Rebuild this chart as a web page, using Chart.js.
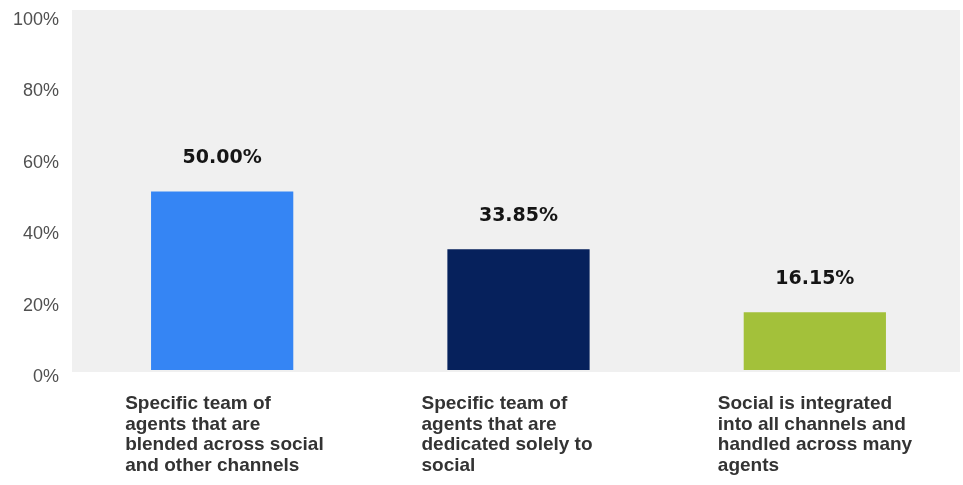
<!DOCTYPE html>
<html>
<head>
<meta charset="utf-8">
<script src="https://cdn.jsdelivr.net/npm/chart.js@4/dist/chart.umd.min.js"></script>
<style>
  html, body { margin: 0; padding: 0; background: #ffffff; }
  #wrap { width: 963px; height: 485px; }
</style>
</head>
<body>
<div id="wrap"><canvas id="c" width="963" height="485"></canvas></div>
<script>
const categories = [
  ["Specific team of", "agents that are", "blended across social", "and other channels"],
  ["Specific team of", "agents that are", "dedicated solely to", "social"],
  ["Social is integrated", "into all channels and", "handled across many", "agents"]
];
const values = [50.00, 33.85, 16.15];
const barColors = ["#3585f4", "#06215c", "#a3c13a"];
const yTicks = [0, 20, 40, 60, 80, 100];

const plotBg = {
  id: 'plotBg',
  beforeDraw(chart) {
    const { ctx, chartArea: a } = chart;
    ctx.save();
    ctx.fillStyle = '#f0f0f0';
    ctx.fillRect(a.left - 2, a.top - 3, 960 - (a.left - 2), a.bottom - a.top + 5);
    ctx.restore();
  }
};

const valueLabels = {
  id: 'valueLabels',
  afterDatasetsDraw(chart) {
    const { ctx } = chart;
    const meta = chart.getDatasetMeta(0);
    ctx.save();
    ctx.font = 'bold 19px "DejaVu Sans"';
    ctx.fillStyle = '#151515';
    ctx.textAlign = 'center';
    ctx.textBaseline = 'middle';
    meta.data.forEach((bar, i) => {
      ctx.fillText(values[i].toFixed(2) + '%', bar.x, bar.y - 33);
    });
    ctx.restore();
  }
};

new Chart(document.getElementById('c'), {
  type: 'bar',
  data: {
    labels: categories,
    datasets: [{
      data: values,
      backgroundColor: barColors,
      borderWidth: 0,
      barPercentage: 0.48,
      categoryPercentage: 1.0
    }]
  },
  options: {
    responsive: false,
    animation: false,
    devicePixelRatio: 1,
    layout: { padding: { top: 13, right: -4, left: 0, bottom: 0 } },
    plugins: {
      legend: { display: false },
      tooltip: { enabled: false }
    },
    scales: {
      x: {
        grid: { display: false, drawTicks: false },
        border: { display: false },
        afterFit(s) { s.height = 115; s.paddingLeft = 0; s.paddingRight = 0; },
        ticks: {
          autoSkip: false,
          maxRotation: 0,
          minRotation: 0,
          align: 'start',
          labelOffset: -97,
          padding: 24,
          color: '#333333',
          font: { family: '"Liberation Sans", Arial, sans-serif', size: 19, weight: 'bold', lineHeight: '20.5px' }
        }
      },
      y: {
        min: 0,
        max: 100,
        grid: { display: false, drawTicks: false },
        border: { display: false },
        afterFit(s) { s.width = 74; s.paddingTop = 0; s.paddingBottom = 0; },
        afterBuildTicks(s) { s.ticks = yTicks.map(v => ({ value: v })); },
        ticks: {
          labelOffset: 7,
          padding: 15,
          color: '#505050',
          font: { family: '"Liberation Sans", Arial, sans-serif', size: 18 },
          callback: v => v + '%'
        }
      }
    }
  },
  plugins: [plotBg, valueLabels]
});
</script>
</body>
</html>
